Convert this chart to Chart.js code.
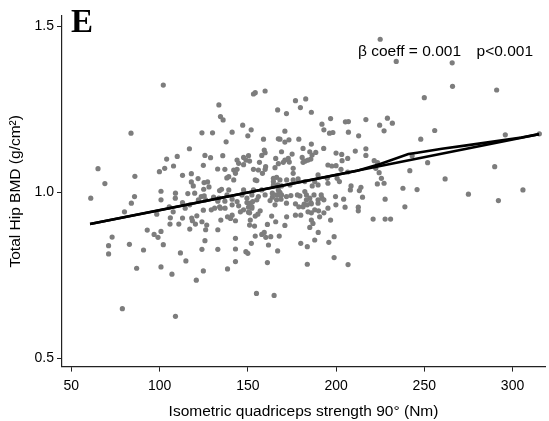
<!DOCTYPE html>
<html>
<head>
<meta charset="utf-8">
<script src="https://cdn.jsdelivr.net/npm/chart.js@4.4.0/dist/chart.umd.min.js"></script>
<style>
html, body { margin: 0; padding: 0; background: #fff; }
#wrap { width: 549px; height: 421px; }
</style>
</head>
<body>
<div id="wrap"><canvas id="chart" width="549" height="421"></canvas></div>
<script>
// isometric quadriceps strength (Nm) vs total hip BMD (g/cm2)
const strengthNm = [
  225.0, 234.1, 265.8, 266.0, 102.1, 291.0, 250.0, 255.9, 248.0, 295.9,
  315.2, 243.1, 251.9, 241.8, 261.8, 289.9, 237.9, 245.9, 239.0, 275.0,
  292.0, 305.9, 153.2, 154.2, 159.8, 177.0, 182.8, 179.8, 166.9, 171.9,
  186.0, 133.6, 134.5, 136.0, 196.9, 192.0, 193.1, 205.3, 207.0, 216.9,
  224.7, 229.1, 231.9, 227.2, 147.1, 141.1, 151.9, 150.0, 171.0, 196.3,
  198.2, 207.0, 212.8, 137.7, 158.9, 167.3, 168.2, 173.3, 171.0, 178.9,
  186.0, 181.3, 185.1, 193.0, 159.3, 159.8, 157.9, 169.1, 175.1, 172.9,
  173.5, 171.0, 150.4, 147.6, 148.9, 151.0, 143.9, 144.8, 135.8, 156.6,
  165.8, 167.3, 170.1, 165.4, 180.8, 181.3, 182.6, 184.1, 185.7, 188.5,
  200.0, 203.2, 203.4, 206.6, 210.9, 216.9, 216.9, 221.6, 223.5, 195.4,
  197.6, 200.0, 202.8, 206.6, 222.5, 224.4, 225.7, 159.8, 158.3, 156.0,
  153.2, 142.0, 143.9, 143.0, 142.0, 139.2, 137.0, 138.1, 154.2, 164.5,
  166.3, 168.2, 164.5, 172.0, 175.7, 178.5, 173.9, 187.9, 189.8, 186.5,
  195.4, 208.5, 214.1, 213.2, 208.1, 199.7, 215.0, 223.4, 227.2, 227.8,
  205.1, 212.6, 212.6, 191.6, 192.0, 189.8, 187.5, 185.1, 182.3, 183.2,
  183.2, 186.0, 183.7, 181.9, 179.5, 178.1, 174.4, 171.9, 171.9, 167.3,
  168.2, 167.3, 169.1, 166.3, 163.9, 163.9, 166.3, 168.8, 165.4, 162.6,
  157.9, 159.8, 155.1, 156.0, 155.1, 147.6, 146.7, 149.5, 144.8, 152.3,
  150.4, 157.0, 149.5, 139.2, 138.2, 133.6, 141.1, 134.5, 141.1, 163.5,
  172.0, 180.0, 184.1, 186.0, 187.9, 190.1, 195.4, 83.8, 124.0, 130.0,
  116.9, 125.7, 128.9, 104.0, 110.0, 65.1, 102.9, 107.9, 99.9, 124.8,
  132.9, 69.0, 86.0, 113.0, 118.0, 121.8, 118.0, 119.1, 125.2, 127.2,
  125.0, 128.0, 135.1, 134.0, 61.0, 100.8, 100.8, 109.0, 108.9, 116.0,
  119.9, 123.6, 125.3, 122.0, 126.1, 130.6, 133.0, 85.8, 84.0, 114.5,
  80.1, 124.8, 129.3, 131.2, 134.0, 105.5, 98.4, 106.1, 113.0, 121.1,
  118.2, 107.7, 105.9, 110.9, 118.6, 120.3, 117.1, 124.0, 126.7, 126.1,
  133.0, 134.7, 138.5, 137.0, 73.1, 71.1, 71.1, 82.9, 93.0, 96.9,
  99.1, 100.8, 102.1, 90.9, 87.0, 100.8, 107.0, 111.8, 114.9, 124.0,
  125.7, 133.0, 124.8, 120.8, 138.5, 78.9, 109.0, 137.1, 143.9, 151.4,
  150.4, 152.3, 152.8, 145.8, 147.6, 151.0, 141.1, 140.2, 143.0, 151.4,
  154.2, 155.7, 165.8, 177.0, 178.9, 181.3, 185.7, 189.8, 193.1, 177.0,
  193.1, 190.7, 196.9, 186.0, 186.9, 185.1, 199.9, 221.0, 227.8, 230.9,
  171.0, 161.1, 151.0, 153.8, 157.9, 159.3, 160.2, 163.0, 154.2, 167.8,
  161.7, 152.0, 166.9, 143.0, 143.0, 143.0, 148.9, 150.0, 161.1, 180.0,
  183.7, 187.9, 189.9, 195.9, 198.9, 183.7, 198.9, 206.8, 154.9, 164.9,
  186.4, 147.6, 160.1, 175.7, 175.7, 164.5, 166.9, 169.1, 182.3, 189.8,
  195.0, 200.6, 201.9, 152.3, 153.2, 204.3, 113.0, 117.1
];
const hipBmd = [
  1.462, 1.395, 1.391, 1.320, 1.324, 1.309, 1.286, 1.187, 1.161, 1.174,
  1.177, 1.111, 1.090, 1.066, 1.041, 1.078, 1.013, 1.009, 0.957, 0.995,
  0.976, 1.008, 1.297, 1.301, 1.306, 1.277, 1.282, 1.256, 1.249, 1.238,
  1.242, 1.264, 1.229, 1.219, 1.223, 1.206, 1.189, 1.213, 1.214, 1.220,
  1.203, 1.224, 1.209, 1.186, 1.203, 1.182, 1.189, 1.171, 1.185, 1.179,
  1.181, 1.182, 1.171, 1.153, 1.161, 1.162, 1.161, 1.159, 1.152, 1.161,
  1.146, 1.133, 1.123, 1.133, 1.128, 1.120, 1.112, 1.123, 1.116, 1.103,
  1.092, 1.098, 1.111, 1.106, 1.098, 1.095, 1.098, 1.088, 1.111, 1.091,
  1.103, 1.087, 1.091, 1.075, 1.106, 1.091, 1.095, 1.098, 1.101, 1.121,
  1.119, 1.115, 1.096, 1.103, 1.125, 1.132, 1.112, 1.096, 1.090, 1.083,
  1.080, 1.081, 1.070, 1.062, 1.073, 1.060, 1.043, 1.070, 1.058, 1.068,
  1.070, 1.068, 1.070, 1.058, 1.038, 1.048, 1.070, 1.044, 1.038, 1.043,
  1.046, 1.038, 1.033, 1.038, 1.038, 1.041, 1.023, 1.033, 1.023, 1.020,
  1.028, 1.020, 1.016, 1.006, 1.008, 0.988, 0.986, 1.026, 1.028, 0.980,
  0.956, 0.956, 0.945, 0.993, 0.983, 0.978, 0.993, 0.983, 1.003, 0.993,
  0.978, 0.966, 0.963, 0.965, 0.990, 0.993, 0.991, 0.988, 0.968, 1.008,
  1.001, 0.993, 0.993, 0.993, 0.998, 0.986, 0.978, 0.980, 0.963, 0.976,
  1.008, 0.993, 1.036, 0.988, 0.978, 1.008, 0.993, 0.983, 0.960, 0.953,
  0.941, 0.945, 0.970, 1.008, 0.993, 0.983, 0.980, 0.953, 0.963, 0.929,
  0.927, 0.932, 0.942, 0.939, 0.948, 0.945, 0.953, 1.179, 1.180, 1.180,
  1.132, 1.112, 1.105, 1.101, 1.109, 1.072, 1.073, 1.080, 1.063, 1.082,
  1.071, 1.027, 1.049, 1.052, 1.057, 1.042, 1.032, 1.020, 1.030, 1.032,
  1.010, 1.017, 1.010, 1.006, 0.983, 1.004, 0.978, 0.998, 0.983, 0.997,
  0.998, 0.988, 0.990, 0.978, 0.978, 0.986, 0.974, 0.988, 0.968, 0.953,
  0.942, 0.947, 0.948, 0.953, 0.957, 0.957, 0.935, 0.924, 0.923, 0.930,
  0.923, 0.942, 0.905, 0.905, 0.915, 0.905, 0.890, 0.912, 0.902, 0.888,
  0.888, 0.917, 0.927, 0.974, 0.866, 0.840, 0.815, 0.844, 0.887, 0.874,
  0.865, 0.883, 0.843, 0.827, 0.772, 0.776, 0.754, 0.818, 0.794, 0.829,
  0.855, 0.829, 0.764, 0.736, 0.770, 0.650, 0.627, 0.953, 0.973, 0.968,
  0.956, 0.958, 0.973, 0.942, 0.948, 0.939, 0.932, 0.922, 0.915, 0.917,
  0.929, 0.935, 0.912, 0.966, 0.957, 0.957, 0.970, 0.968, 0.978, 0.932,
  0.939, 0.927, 0.917, 0.917, 0.907, 0.895, 0.963, 0.920, 0.920, 0.920,
  0.901, 0.904, 0.902, 0.899, 0.874, 0.880, 0.865, 0.867, 0.869, 0.869,
  0.842, 0.847, 0.824, 0.862, 0.830, 0.792, 0.822, 0.817, 0.789, 0.847,
  0.837, 0.857, 0.880, 0.850, 0.867, 0.784, 0.804, 0.783, 0.696, 0.690,
  1.113, 1.084, 1.078, 1.073, 1.058, 1.023, 1.023, 1.020, 1.033, 1.053,
  1.043, 1.043, 1.033, 0.993, 1.008, 0.980, 0.970, 0.963
];

// linear fit and smoothed fit
const fitX = [60.6, 315.0];
const fitY = [0.905, 1.176];
const lowessX = [60.6, 100, 150, 200, 212, 225, 241, 246, 260, 275, 291, 305, 315.0];
const lowessY = [0.905, 0.947, 1.000, 1.053, 1.066, 1.086, 1.116, 1.120, 1.132, 1.143, 1.155, 1.166, 1.176];

const xTicks = [50, 100, 150, 200, 250, 300];
const yTicks = [0.5, 1.0, 1.5];
const panelLabel = 'E';
const statsText = ['β coeff = 0.001', 'p<0.001'];

const toPoints = (xs, ys) => xs.map((x, i) => ({ x: x, y: ys[i] }));

const textPlugin = {
    id: 'panelText',
    afterDraw(chart) {
        const ctx = chart.ctx;
        ctx.save();
        ctx.fillStyle = '#000';
        ctx.textBaseline = 'alphabetic';
        ctx.font = 'bold 33px "Liberation Serif"';
        ctx.textAlign = 'left';
        ctx.fillText(panelLabel, 71, 32);
        ctx.font = '15.5px "Liberation Sans"';
        ctx.fillText(statsText[0], 358, 56);
        ctx.textAlign = 'right';
        ctx.fillText(statsText[1], 533, 56);
        ctx.restore();
    }
};

const axisFont = { family: 'Liberation Sans', size: 14 };
const titleFont = { family: 'Liberation Sans', size: 15.5 };

new Chart(document.getElementById('chart'), {
    type: 'scatter',
    data: {
        datasets: [
            {
                label: 'Lowess',
                data: toPoints(lowessX, lowessY),
                showLine: true,
                borderColor: '#000',
                borderWidth: 2.6,
                pointRadius: 0,
                order: 0
            },
            {
                label: 'Linear fit',
                data: toPoints(fitX, fitY),
                showLine: true,
                borderColor: '#000',
                borderWidth: 2.6,
                pointRadius: 0,
                order: 1
            },
            {
                label: 'Total Hip BMD',
                data: toPoints(strengthNm, hipBmd),
                backgroundColor: '#7d7d7d',
                borderWidth: 0,
                pointRadius: 2.6,
                order: 2
            }
        ]
    },
    options: {
        responsive: false,
        animation: false,
        layout: { padding: { top: 16, left: 0, right: 0, bottom: 0 } },
        plugins: {
            legend: { display: false },
            tooltip: { enabled: false }
        },
        scales: {
            x: {
                type: 'linear',
                min: 44.7,
                max: 318.4,
                afterBuildTicks: s => { s.ticks = xTicks.map(v => ({ value: v })); },
                afterFit: s => { s.height = 54.4; },
                grid: { drawOnChartArea: false, drawTicks: true, tickLength: 5, color: '#222', lineWidth: 1 },
                border: { display: true, color: '#222', width: 1.2 },
                ticks: { color: '#000', font: axisFont, padding: 6, maxRotation: 0 },
                title: {
                    display: true,
                    text: 'Isometric quadriceps strength 90° (Nm)',
                    color: '#000',
                    font: titleFont,
                    padding: { top: 0, bottom: 0 }
                }
            },
            y: {
                type: 'linear',
                min: 0.4756,
                max: 1.532,
                afterBuildTicks: s => { s.ticks = yTicks.map(v => ({ value: v })); },
                afterFit: s => { s.width = 62; },
                grid: { drawOnChartArea: false, drawTicks: true, tickLength: 5, color: '#222', lineWidth: 1 },
                border: { display: true, color: '#222', width: 1.2 },
                ticks: { color: '#000', font: axisFont, padding: 3, callback: v => v.toFixed(1) },
                title: {
                    display: true,
                    text: 'Total Hip BMD (g/cm²)',
                    color: '#000',
                    font: titleFont,
                    padding: { top: 6, bottom: 0 }
                }
            }
        }
    },
    plugins: [textPlugin]
});
</script>
</body>
</html>
